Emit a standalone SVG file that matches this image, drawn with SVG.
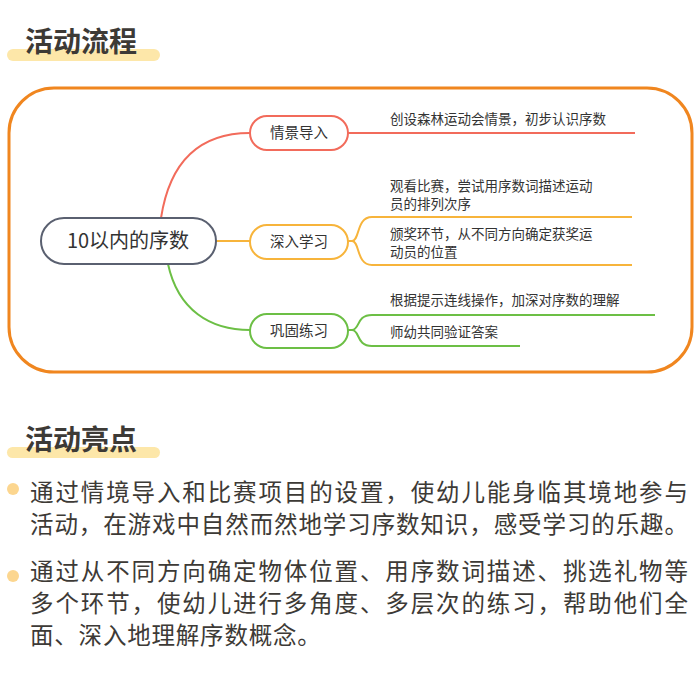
<svg xmlns="http://www.w3.org/2000/svg" width="700" height="689" viewBox="0 0 700 689">
<style>
.h{font-family:"Noto Sans CJK SC",sans-serif;font-weight:bold;font-size:28px;fill:#3d3a36}
.bar{fill:#fde7a9}
.t{font-family:"Noto Sans CJK SC",sans-serif;font-size:13.5px;fill:#333}
.n{font-family:"Noto Sans CJK SC",sans-serif;font-size:14.5px;fill:#333;text-anchor:middle}
.p{font-family:"Noto Sans CJK SC",sans-serif;font-size:23.5px;fill:#3d3a36}
.c{fill:none;stroke-width:2}
</style>
<rect class="bar" x="7" y="49" width="153" height="12" rx="6"/>
<text class="h" x="25" y="52">活动流程</text>
<rect x="9" y="88" width="683" height="284" rx="45" fill="#fff" stroke="#f0861f" stroke-width="3"/>
<g id="connectors">
<path class="c" d="M161 218 C170 160 200 133 250 133" stroke="#f26b5b" stroke-width="3"/>
<path class="c" d="M216 241 H250" stroke="#f7b43b" stroke-width="3"/>
<path class="c" d="M168 264 C178 310 210 330 250 330" stroke="#6cbf45" stroke-width="3"/>
<path class="c" d="M348 133 H635" stroke="#f26b5b"/>
<path class="c" d="M348 241 H352 C360 241 356 217 372 217 H632 M352 241 C360 241 356 265 372 265 H632" stroke="#f7b43b"/>
<path class="c" d="M348 330 H352 C360 330 356 315 372 315 H655 M352 330 C360 330 356 346 372 346 H520" stroke="#6cbf45"/>
</g>
<g id="center"><rect x="41" y="218" width="175" height="46" rx="23" fill="#fff" stroke="#5a6070" stroke-width="2"/><text class="n" x="128" y="248" style="font-size:20px">10以内的序数</text></g>
<g id="n1"><rect x="250" y="116" width="98" height="34" rx="17" fill="#fff" stroke="#f26b5b" stroke-width="2"/><text class="n" x="299" y="138">情景导入</text></g>
<g id="n2"><rect x="250" y="225" width="98" height="34" rx="17" fill="#fff" stroke="#f7b43b" stroke-width="2"/><text class="n" x="299" y="247">深入学习</text></g>
<g id="n3"><rect x="250" y="314" width="98" height="34" rx="17" fill="#fff" stroke="#6cbf45" stroke-width="2"/><text class="n" x="299" y="336">巩固练习</text></g>
<g id="leaves">
<text class="t" x="390" y="124">创设森林运动会情景，初步认识序数</text>
<text class="t" x="390" y="191">观看比赛，尝试用序数词描述运动<tspan x="390" dy="18">员的排列次序</tspan></text>
<text class="t" x="390" y="239">颁奖环节，从不同方向确定获奖运<tspan x="390" dy="18">动员的位置</tspan></text>
<text class="t" x="390" y="305">根据提示连线操作，加深对序数的理解</text>
<text class="t" x="390" y="337">师幼共同验证答案</text>
</g>
<rect class="bar" x="7" y="447" width="153" height="11" rx="5.5"/>
<text class="h" x="25" y="450">活动亮点</text>
<circle cx="13" cy="489" r="6" fill="#fcd68f"/>
<circle cx="13" cy="576" r="6" fill="#fcd68f"/>
<text class="p" x="30" y="501" textLength="658" lengthAdjust="spacing">通过情境导入和比赛项目的设置，使幼儿能身临其境地参与</text>
<text class="p" x="30" y="533" textLength="658" lengthAdjust="spacing">活动，在游戏中自然而然地学习序数知识，感受学习的乐趣。</text>
<text class="p" x="30" y="580" textLength="658" lengthAdjust="spacing">通过从不同方向确定物体位置、用序数词描述、挑选礼物等</text>
<text class="p" x="30" y="612" textLength="658" lengthAdjust="spacing">多个环节，使幼儿进行多角度、多层次的练习，帮助他们全</text>
<text class="p" x="30" y="644" letter-spacing="0.8">面、深入地理解序数概念。</text>
</svg>
